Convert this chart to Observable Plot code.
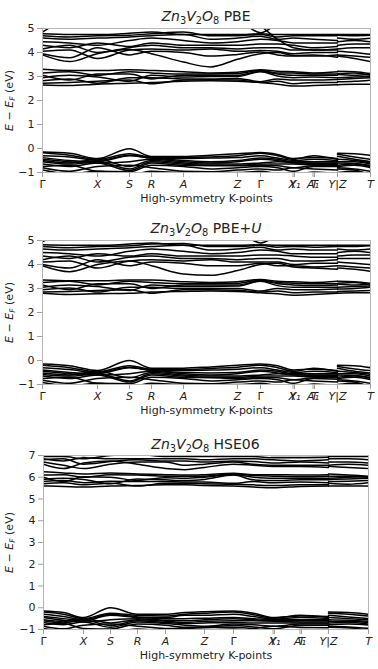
<!DOCTYPE html>
<html><head><meta charset="utf-8">
<script src="https://cdn.jsdelivr.net/npm/d3@7"></script>
<script src="https://cdn.jsdelivr.net/npm/@observablehq/plot@0.6"></script>
<style>
body{margin:0;background:#fff;font-family:"DejaVu Sans",sans-serif;color:#222;}
#wrap{position:relative;width:378px;height:669px;overflow:hidden;}
.panel{position:absolute;left:0;width:378px;}
.title{position:absolute;font-size:14px;line-height:14px;white-space:nowrap;transform:translateX(-50%);}
.ylab{position:absolute;width:140px;text-align:center;font-size:11px;line-height:12px;white-space:nowrap;transform:rotate(-90deg);}
sub{font-size:70%;vertical-align:baseline;position:relative;top:0.3em;}
</style>
</head><body><div id="wrap"></div>
<script>
// ---- k-point labels and tick positions ----
const kLabels = ["Γ","X","S","R","A","Z","Γ","Y","X₁","A₁","T","Y|Z","T"];
const kTicksPBE = [0, 0.55, 0.87, 1.09, 1.41, 1.95, 2.18, 2.505, 2.52, 2.705, 2.72, 2.95, 3.28];
const kTicksHSE = [0, 0.40, 0.67, 0.94, 1.22, 1.61, 1.90, 2.295, 2.31, 2.565, 2.58, 2.85, 3.25];
// sampling nodes (first path part Γ…Y, second part Z…T)
const kNodesPBE_A = [0, 0.27, 0.55, 0.87, 1.09, 1.41, 1.68, 1.95, 2.18, 2.35, 2.51, 2.71, 2.95];
const kNodesPBE_B = [2.95, 3.12, 3.28];
const kNodesHSE_A = [0, 0.20, 0.40, 0.67, 0.94, 1.22, 1.415, 1.61, 1.90, 2.10, 2.30, 2.57, 2.85];
const kNodesHSE_B = [2.85, 3.05, 3.25];
const yTicksPBE = [-1, 0, 1, 2, 3, 4, 5];
const yTicksHSE = [-1, 0, 1, 2, 3, 4, 5, 6, 7];

// ---- PBE bands (eV) ----
const pbeValence = [
 [-0.15,-0.2,-0.42,-0.01,-0.33,-0.33,-0.28,-0.22,-0.17,-0.25,-0.42,-0.38,-0.42,-0.2,-0.22,-0.28],
 [-0.18,-0.28,-0.45,-0.22,-0.36,-0.38,-0.35,-0.3,-0.2,-0.3,-0.45,-0.3,-0.45,-0.24,-0.35,-0.45],
 [-0.3,-0.35,-0.5,-0.28,-0.4,-0.42,-0.4,-0.38,-0.3,-0.4,-0.5,-0.45,-0.5,-0.32,-0.45,-0.55],
 [-0.38,-0.5,-0.55,-0.3,-0.4,-0.5,-0.55,-0.5,-0.4,-0.45,-0.55,-0.55,-0.55,-0.45,-0.5,-0.6],
 [-0.45,-0.55,-0.6,-0.55,-0.45,-0.55,-0.6,-0.55,-0.45,-0.5,-0.6,-0.6,-0.6,-0.55,-0.55,-0.65],
 [-0.5,-0.6,-0.45,-0.75,-0.5,-0.6,-0.65,-0.65,-0.6,-0.55,-0.58,-0.62,-0.62,-0.6,-0.62,-0.7],
 [-0.55,-0.65,-0.55,-0.85,-0.55,-0.65,-0.7,-0.7,-0.65,-0.65,-0.65,-0.68,-0.68,-0.7,-0.65,-0.75],
 [-0.65,-0.75,-0.6,-0.92,-0.6,-0.7,-0.72,-0.72,-0.7,-0.72,-0.8,-0.72,-0.72,-0.75,-0.7,-0.8],
 [-0.75,-0.7,-0.95,-0.97,-0.7,-0.75,-0.85,-0.8,-0.75,-0.8,-0.95,-0.75,-0.75,-0.8,-0.85,-0.95],
 [-0.8,-0.95,-0.75,-0.7,-0.8,-0.95,-0.97,-0.9,-0.85,-0.9,-0.8,-0.85,-0.9,-0.85,-0.9,-1.1],
 [-0.9,-1.05,-0.95,-1.1,-0.95,-1.0,-0.98,-1.0,-0.95,-1.05,-1.1,-0.98,-1.05,-1.0,-0.95,-1.15]
];
const pbeConduction = [
 [2.65,2.62,2.68,2.72,2.75,2.8,2.82,2.8,2.75,2.68,2.6,2.62,2.66,2.66,2.68,2.68],
 [2.72,2.75,2.8,2.85,2.7,2.85,2.86,2.85,2.75,2.8,2.7,2.75,2.75,2.78,2.8,2.85],
 [2.82,2.9,2.72,2.95,2.95,2.9,2.9,2.92,2.78,2.9,2.85,2.85,2.88,2.88,2.92,2.95],
 [2.95,3.05,2.98,2.8,3.05,2.98,3.0,3.0,3.2,3.02,2.95,2.98,2.95,2.95,2.98,3.0],
 [3.05,2.85,3.1,3.1,2.9,3.05,3.05,3.05,3.22,3.1,3.05,3.05,3.05,3.08,3.05,3.1],
 [3.15,3.2,3.05,3.2,3.15,3.1,3.1,3.12,3.25,3.15,3.15,3.1,3.1,3.12,3.15,3.05],
 [3.3,3.25,3.25,3.28,3.25,3.2,3.15,3.18,3.28,3.22,3.2,3.15,3.2,3.22,3.2,3.12],
 [3.9,3.62,3.95,4.12,3.95,3.6,3.4,3.72,3.95,4.0,3.88,3.9,3.8,3.85,3.75,3.62],
 [3.95,3.78,4.2,3.9,4.05,4.0,3.85,3.92,4.02,3.9,3.85,3.85,3.9,3.9,3.85,3.8],
 [4.05,4.1,3.75,4.1,4.15,4.1,4.15,4.05,4.08,4.05,3.95,4.0,4.0,4.05,4.0,3.92],
 [4.15,4.3,4.0,4.2,4.3,4.2,4.2,4.15,4.2,4.2,4.1,4.1,4.15,4.15,4.2,4.2],
 [4.3,4.2,4.4,4.25,4.4,4.3,4.3,4.3,4.35,4.35,4.3,4.2,4.25,4.3,4.35,4.35],
 [4.45,4.4,4.3,4.5,4.6,4.5,4.4,4.45,4.55,4.5,4.4,4.4,4.4,4.45,4.5,4.45],
 [4.6,4.55,4.6,4.65,4.7,4.75,4.55,4.6,4.68,4.55,4.6,4.55,4.5,4.6,4.55,4.6],
 [4.7,4.65,4.7,4.72,4.78,4.85,4.7,4.7,4.75,4.65,4.7,4.7,4.7,4.72,4.7,4.72],
 [4.78,4.75,4.75,4.8,4.85,4.75,4.75,4.75,4.78,4.75,4.75,4.75,4.75,4.75,4.75,4.75],
 [4.85,5.4,5.5,5.5,5.3,5.2,5.2,5.3,4.82,5.2,5.5,5.5,5.5,5.4,5.4,5.4],
 [5.6,5.6,5.6,5.6,5.6,5.6,5.6,5.5,5.1,4.55,4.2,4.1,4.1,5.5,5.5,5.5]
];

// ---- PBE+U bands (eV) ----
const pbeuValence = [
 [-0.15,-0.22,-0.42,0.0,-0.32,-0.32,-0.27,-0.2,-0.15,-0.22,-0.4,-0.36,-0.42,-0.2,-0.22,-0.3],
 [-0.2,-0.3,-0.47,-0.22,-0.36,-0.38,-0.33,-0.28,-0.2,-0.3,-0.45,-0.32,-0.45,-0.25,-0.35,-0.42],
 [-0.3,-0.38,-0.5,-0.28,-0.4,-0.42,-0.4,-0.36,-0.3,-0.4,-0.5,-0.45,-0.5,-0.32,-0.45,-0.52],
 [-0.4,-0.5,-0.55,-0.3,-0.42,-0.5,-0.52,-0.5,-0.4,-0.45,-0.55,-0.55,-0.55,-0.45,-0.5,-0.58],
 [-0.45,-0.55,-0.6,-0.55,-0.45,-0.55,-0.6,-0.55,-0.45,-0.52,-0.6,-0.6,-0.6,-0.55,-0.55,-0.65],
 [-0.52,-0.6,-0.45,-0.72,-0.5,-0.6,-0.65,-0.65,-0.6,-0.55,-0.58,-0.62,-0.62,-0.6,-0.62,-0.7],
 [-0.58,-0.65,-0.55,-0.85,-0.55,-0.65,-0.7,-0.7,-0.65,-0.65,-0.65,-0.68,-0.68,-0.7,-0.65,-0.75],
 [-0.65,-0.75,-0.6,-0.9,-0.6,-0.7,-0.72,-0.75,-0.7,-0.72,-0.8,-0.72,-0.72,-0.75,-0.7,-0.8],
 [-0.75,-0.7,-0.95,-0.97,-0.7,-0.75,-0.85,-0.8,-0.75,-0.8,-0.95,-0.75,-0.78,-0.8,-0.85,-0.95],
 [-0.82,-0.95,-0.75,-0.7,-0.8,-0.95,-0.97,-0.9,-0.85,-0.9,-0.8,-0.85,-0.9,-0.85,-0.9,-1.1],
 [-0.92,-1.05,-0.95,-1.1,-0.95,-1.0,-0.98,-1.0,-0.95,-1.05,-1.1,-0.98,-1.05,-1.0,-0.95,-1.15]
];
const pbeuConduction = [
 [2.8,2.75,2.78,2.8,2.85,2.88,2.9,2.88,2.82,2.78,2.72,2.75,2.8,2.8,2.82,2.82],
 [2.85,2.88,2.92,2.95,2.8,2.95,2.95,2.93,2.85,2.9,2.82,2.85,2.85,2.88,2.9,2.92],
 [2.95,3.02,2.85,3.05,3.05,3.0,3.0,3.0,2.9,3.0,2.95,2.95,2.98,2.98,3.0,3.05],
 [3.05,3.15,3.08,2.92,3.15,3.08,3.08,3.1,3.3,3.12,3.05,3.05,3.05,3.05,3.08,3.1],
 [3.15,2.95,3.2,3.2,3.0,3.15,3.15,3.15,3.32,3.2,3.15,3.12,3.15,3.18,3.15,3.18],
 [3.25,3.3,3.15,3.3,3.25,3.2,3.2,3.22,3.35,3.25,3.22,3.2,3.2,3.22,3.25,3.15],
 [3.35,3.32,3.32,3.35,3.35,3.28,3.25,3.28,3.38,3.3,3.28,3.25,3.3,3.3,3.28,3.22],
 [3.95,3.7,4.0,4.15,3.95,3.6,3.55,3.75,4.0,4.05,3.9,3.85,3.8,3.85,3.8,3.72],
 [4.0,3.85,4.2,3.95,4.1,4.05,3.95,3.95,4.05,3.95,3.95,3.9,3.95,3.95,3.9,3.85],
 [4.1,4.15,3.85,4.15,4.2,4.15,4.2,4.1,4.1,4.1,4.0,4.05,4.05,4.1,4.05,4.0],
 [4.2,4.35,4.1,4.3,4.35,4.25,4.25,4.2,4.25,4.25,4.15,4.15,4.2,4.25,4.25,4.25],
 [4.35,4.25,4.45,4.35,4.45,4.35,4.35,4.35,4.4,4.4,4.35,4.3,4.3,4.35,4.4,4.4],
 [4.5,4.45,4.35,4.55,4.65,4.55,4.45,4.5,4.6,4.55,4.45,4.45,4.45,4.5,4.55,4.5],
 [4.65,4.6,4.65,4.7,4.75,4.8,4.6,4.65,4.72,4.6,4.65,4.6,4.6,4.65,4.6,4.65],
 [4.75,4.7,4.75,4.78,4.85,4.88,4.75,4.75,4.8,4.72,4.75,4.72,4.75,4.75,4.75,4.78],
 [4.82,4.8,4.8,4.85,4.9,4.8,4.8,4.8,4.82,4.8,4.8,4.8,4.8,4.8,4.8,4.8],
 [4.95,5.4,5.5,5.5,5.3,5.25,5.25,5.3,4.9,5.2,5.5,5.5,5.5,5.4,5.4,5.4]
];

// ---- HSE06 bands (eV) ----
const hseValence = [
 [-0.15,-0.22,-0.45,0.0,-0.3,-0.3,-0.22,-0.18,-0.15,-0.25,-0.45,-0.38,-0.4,-0.2,-0.22,-0.3],
 [-0.2,-0.3,-0.5,-0.25,-0.35,-0.38,-0.3,-0.25,-0.2,-0.32,-0.48,-0.35,-0.45,-0.25,-0.3,-0.38],
 [-0.3,-0.4,-0.55,-0.3,-0.42,-0.45,-0.35,-0.35,-0.3,-0.4,-0.52,-0.45,-0.5,-0.35,-0.42,-0.5],
 [-0.4,-0.5,-0.6,-0.35,-0.45,-0.5,-0.5,-0.48,-0.45,-0.5,-0.55,-0.55,-0.55,-0.45,-0.5,-0.55],
 [-0.45,-0.58,-0.65,-0.55,-0.5,-0.58,-0.6,-0.55,-0.5,-0.55,-0.6,-0.6,-0.6,-0.55,-0.58,-0.62],
 [-0.55,-0.62,-0.5,-0.7,-0.55,-0.62,-0.68,-0.62,-0.6,-0.6,-0.62,-0.65,-0.65,-0.62,-0.62,-0.68],
 [-0.6,-0.7,-0.55,-0.82,-0.6,-0.68,-0.72,-0.7,-0.68,-0.7,-0.7,-0.7,-0.7,-0.7,-0.68,-0.75],
 [-0.68,-0.78,-0.65,-0.9,-0.65,-0.72,-0.8,-0.85,-0.75,-0.78,-0.85,-0.75,-0.75,-0.78,-0.75,-0.8],
 [-0.78,-0.72,-0.95,-0.98,-0.75,-0.8,-0.9,-0.88,-0.82,-0.88,-0.97,-0.8,-0.8,-0.85,-0.88,-0.95],
 [-0.85,-0.97,-0.8,-0.75,-0.85,-0.95,-0.95,-0.92,-0.9,-0.95,-0.85,-0.9,-0.92,-0.9,-0.92,-1.05],
 [-0.95,-1.05,-1.0,-1.1,-0.98,-1.05,-1.0,-1.02,-0.98,-1.05,-1.1,-1.0,-1.05,-1.05,-1.0,-1.15]
];
const hseConduction = [
 [5.6,5.58,5.55,5.6,5.62,5.65,5.65,5.62,5.6,5.55,5.52,5.58,5.6,5.6,5.6,5.6],
 [5.7,5.75,5.65,5.72,5.6,5.72,5.72,5.7,5.68,5.65,5.62,5.65,5.65,5.72,5.68,5.75],
 [5.8,5.85,5.75,5.82,5.8,5.8,5.78,5.78,5.72,5.8,5.75,5.78,5.75,5.8,5.82,5.85],
 [5.9,5.95,5.9,5.7,5.92,5.88,5.85,5.9,6.1,5.88,5.85,5.88,5.88,5.9,5.92,5.95],
 [6.0,5.8,6.02,6.0,5.85,5.98,5.95,6.0,6.12,6.0,5.95,5.95,5.95,5.95,6.0,6.02],
 [6.1,6.12,6.0,6.12,6.1,6.05,6.05,6.05,6.15,6.08,6.05,6.02,6.05,6.05,6.05,6.0],
 [6.25,6.2,6.15,6.2,6.15,6.12,6.1,6.12,6.18,6.12,6.12,6.1,6.12,6.15,6.1,6.05],
 [6.6,6.4,6.65,6.75,6.6,6.4,6.35,6.45,6.6,6.55,6.5,6.5,6.45,6.5,6.45,6.4],
 [6.7,6.55,6.4,6.6,6.7,6.7,6.55,6.6,6.7,6.6,6.55,6.55,6.55,6.55,6.6,6.55],
 [6.8,6.85,6.6,6.72,6.8,6.75,6.75,6.7,6.75,6.72,6.65,6.7,6.65,6.7,6.7,6.65],
 [6.85,6.75,6.9,6.85,6.85,6.85,6.85,6.8,6.85,6.85,6.8,6.75,6.8,6.85,6.85,6.8],
 [6.95,6.95,6.85,7.0,7.05,6.95,6.95,6.95,6.95,6.95,6.9,6.9,6.92,6.95,6.95,6.95],
 [7.1,7.15,7.0,7.2,7.2,7.1,7.1,7.05,7.05,7.1,7.0,7.0,7.0,7.0,7.0,7.0]
];

const xAxisLabel = "High-symmetry K-points";
const formulaHTML = "<i>Zn</i><sub>3</sub><i>V</i><sub>2</sub><i>O</i><sub>8</sub>";
const yLabelHTML = "<i>E</i> − <i>E</i><sub><i>F</i></sub> (eV)";

function buildRows(nodesA, nodesB, bands) {
  const rows = [];
  bands.forEach((vals, b) => {
    nodesA.forEach((k, j) => rows.push({key: b + "a", k, e: vals[j]}));
    nodesB.forEach((k, j) => rows.push({key: b + "b", k, e: vals[nodesA.length + j]}));
  });
  return rows;
}

const fmtY = d => d < 0 ? "−" + Math.abs(d) : String(d);

function makePanel(cfg) {
  const wrap = document.getElementById("wrap");
  const div = document.createElement("div");
  div.className = "panel";
  div.style.top = cfg.top + "px";
  div.style.height = cfg.height + "px";
  wrap.appendChild(div);
  const labelMap = new Map(cfg.ticks.map((k, i) => [k, kLabels[i]]));
  const rows = buildRows(cfg.nodesA, cfg.nodesB, cfg.bands);
  const xmax = cfg.ticks[cfg.ticks.length - 1];
  const chart = Plot.plot({
    width: 378, height: cfg.height,
    marginTop: cfg.mt, marginBottom: cfg.mb, marginLeft: cfg.ml, marginRight: cfg.mr,
    x: {domain: [0, xmax]},
    y: {domain: [cfg.yTicks[0], cfg.yTicks[cfg.yTicks.length - 1]]},
    style: {fontFamily: "DejaVu Sans, sans-serif", fontSize: "11px", background: "white", color: "#222"},
    marks: [
      Plot.line(rows, {x: "k", y: "e", z: "key", stroke: "black", strokeWidth: 1.5, curve: "monotone-x", clip: true}),
      Plot.frame({stroke: "#b5b5b5"}),
      Plot.axisX(cfg.ticks, {anchor: "bottom", tickSize: 5, tickPadding: 3, tickFormat: d => labelMap.get(d), stroke: "#a0a0a0", fill: "#222", fontSize: 11, label: null}),
      Plot.axisY(cfg.yTicks, {anchor: "left", tickSize: 5, tickPadding: 3, tickFormat: fmtY, stroke: "#a0a0a0", fill: "#222", fontSize: 11, label: null}),
      Plot.text([xAxisLabel], {text: d => d, frameAnchor: "bottom", dy: 29, fill: "#222", fontSize: 11})
    ]
  });
  chart.querySelectorAll('g[aria-label="x-axis tick label"] text').forEach(t => {
    if (t.textContent !== "Γ") t.style.fontStyle = "italic";
  });
  div.appendChild(chart);
  const title = document.createElement("div");
  title.className = "title";
  title.innerHTML = cfg.title;
  title.style.left = (cfg.ml + (378 - cfg.ml - cfg.mr) / 2) + "px";
  title.style.top = cfg.titleTop + "px";
  div.appendChild(title);
  const yl = document.createElement("div");
  yl.className = "ylab";
  yl.innerHTML = yLabelHTML;
  yl.style.left = (10 - 70) + "px";
  yl.style.top = (cfg.mt + (cfg.height - cfg.mt - cfg.mb) / 2 - 6) + "px";
  div.appendChild(yl);
}

makePanel({top: 0, height: 212, mt: 28, mb: 40, ml: 42, mr: 8, titleTop: 9,
  ticks: kTicksPBE, nodesA: kNodesPBE_A, nodesB: kNodesPBE_B,
  bands: pbeValence.concat(pbeConduction), yTicks: yTicksPBE,
  title: formulaHTML + " PBE"});
makePanel({top: 212, height: 212, mt: 28, mb: 40, ml: 42, mr: 8, titleTop: 9,
  ticks: kTicksPBE, nodesA: kNodesPBE_A, nodesB: kNodesPBE_B,
  bands: pbeuValence.concat(pbeuConduction), yTicks: yTicksPBE,
  title: formulaHTML + " PBE+<i>U</i>"});
makePanel({top: 424, height: 245, mt: 31, mb: 40, ml: 43, mr: 10, titleTop: 13,
  ticks: kTicksHSE, nodesA: kNodesHSE_A, nodesB: kNodesHSE_B,
  bands: hseValence.concat(hseConduction), yTicks: yTicksHSE,
  title: formulaHTML + " HSE06"});
</script>
</body></html>
